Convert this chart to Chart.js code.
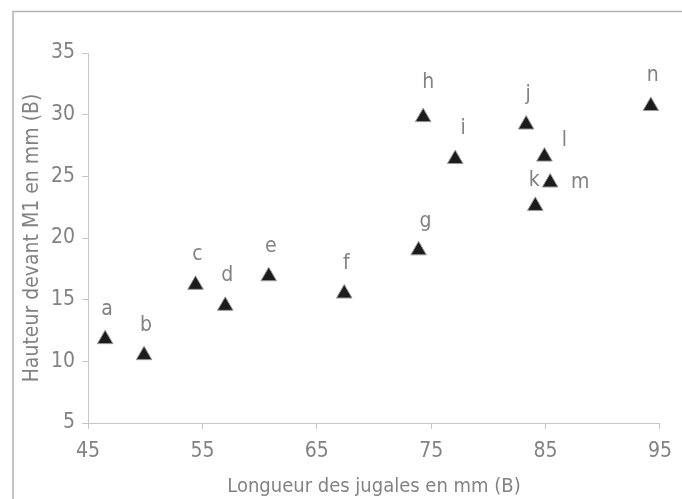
<!DOCTYPE html>
<html>
<head>
<meta charset="utf-8">
<script src="https://cdn.jsdelivr.net/npm/chart.js@4/dist/chart.umd.min.js"></script>
<style>
  html, body { margin: 0; padding: 0; background: #fff; }
  #wrap { width: 682px; height: 499px; position: relative; }
</style>
</head>
<body>
<div id="wrap"><canvas id="chart"></canvas></div>
<script>
const specimens = ["a", "b", "c", "d", "e", "f", "g", "h", "i", "j", "k", "l", "m", "n"];
const jugalLength = [46.5, 49.9, 54.4, 57.0, 60.8, 67.4, 73.9, 74.3, 77.1, 83.3, 84.1, 84.9, 85.4, 94.2];
const heightM1 = [11.8, 10.5, 16.2, 14.5, 16.9, 15.5, 19.0, 29.8, 26.4, 29.2, 22.6, 26.6, 24.5, 30.7];
const xTicks = [45, 55, 65, 75, 85, 95];
const yTicks = [5, 10, 15, 20, 25, 30, 35];

const FONT = "'Liberation Sans Narrow', 'DejaVu Sans Condensed', 'Liberation Sans', sans-serif";
const GREY = "#828282";

// small nudges so the letters sit where the original put them
const labelShift = {
  g: [7, -29], h: [5, -35], i: [8, -31], k: [-1, -25], l: [20, -16], m: [30, 0],
};

const pointLabels = {
  id: "pointLabels",
  afterDatasetsDraw(chart) {
    const { ctx } = chart;
    const meta = chart.getDatasetMeta(0);
    ctx.save();
    ctx.font = "21px " + FONT;
    ctx.fillStyle = GREY;
    ctx.textAlign = "center";
    ctx.textBaseline = "middle";
    meta.data.forEach((pt, i) => {
      const name = specimens[i];
      const [dx, dy] = labelShift[name] || [2, -30];
      ctx.fillText(name, pt.x + dx, pt.y + dy);
    });
    ctx.restore();
  },
};

const frame = {
  id: "frame",
  beforeDraw(chart) {
    const { ctx } = chart;
    ctx.save();
    ctx.strokeStyle = "#b4b4b4";
    ctx.lineWidth = 1.5;
    ctx.beginPath();
    ctx.moveTo(13, 499);
    ctx.lineTo(13, 11.5);
    ctx.lineTo(682, 11.5);
    ctx.stroke();
    ctx.restore();
  },
};

const axisStyle = {
  border: { color: "#c8c8c8", width: 1 },
  grid: { drawOnChartArea: false, color: "#c8c8c8", tickLength: 6 },
};

new Chart(document.getElementById("chart"), {
  type: "scatter",
  data: {
    datasets: [{
      data: jugalLength.map((x, i) => ({ x, y: heightM1[i] })),
      pointStyle: "triangle",
      pointRadius: 9,
      pointHoverRadius: 9,
      backgroundColor: "#1c1c1c",
      borderColor: "#9a9a9a",
      borderWidth: 1,
    }],
  },
  options: {
    responsive: true,
    maintainAspectRatio: false,
    animation: false,
    layout: { padding: { top: 53, right: 21, left: 0, bottom: 0 } },
    scales: {
      x: {
        ...axisStyle,
        min: 45,
        max: 95,
        afterBuildTicks: (s) => { s.ticks = xTicks.map((v) => ({ value: v })); },
        afterFit: (s) => { s.height = 76; },
        ticks: { color: GREY, font: { family: FONT, size: 21 }, padding: 10 },
        title: {
          display: true,
          text: "Longueur des jugales en mm (B)",
          color: GREY,
          font: { family: FONT, size: 20, lineHeight: 1.0 },
          padding: { top: 0, bottom: 2 },
        },
      },
      y: {
        ...axisStyle,
        min: 5,
        max: 35,
        afterBuildTicks: (s) => { s.ticks = yTicks.map((v) => ({ value: v })); },
        afterFit: (s) => { s.width = 88; },
        ticks: { color: GREY, font: { family: FONT, size: 21 }, padding: 7 },
        title: {
          display: true,
          text: "Hauteur devant M1 en mm (B)",
          color: GREY,
          font: { family: FONT, size: 21, lineHeight: 1.0 },
          padding: { top: 22, bottom: 0 },
        },
      },
    },
    plugins: {
      legend: { display: false },
      tooltip: { enabled: false },
    },
  },
  plugins: [frame, pointLabels],
});
</script>
</body>
</html>
